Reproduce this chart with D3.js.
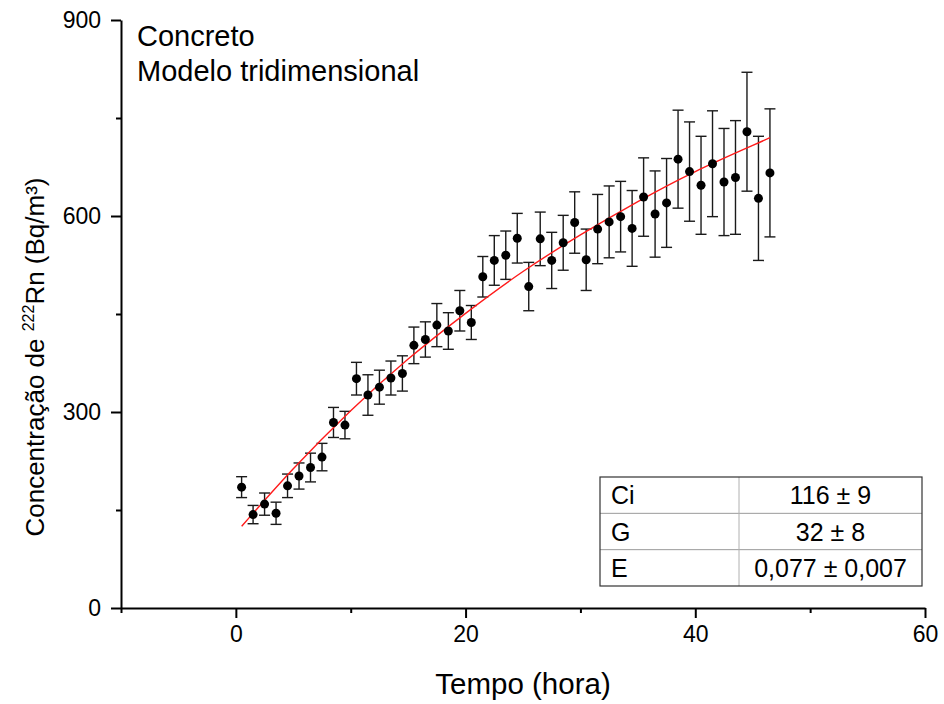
<!DOCTYPE html>
<html>
<head>
<meta charset="utf-8">
<script src="https://cdn.jsdelivr.net/npm/d3@7"></script>
<style>
  html, body { margin: 0; padding: 0; background: #fff; }
  svg { display: block; }
  text { font-family: Arial, "Liberation Sans", sans-serif; fill: #000; }
</style>
</head>
<body>
<svg id="chart" width="944" height="704"></svg>
<script>
// ---- Data ----
const times = [0.5, 1.5, 2.5, 3.5, 4.5, 5.5, 6.5, 7.5, 8.5, 9.5,
  10.5, 11.5, 12.5, 13.5, 14.5, 15.5, 16.5, 17.5, 18.5, 19.5,
  20.5, 21.5, 22.5, 23.5, 24.5, 25.5, 26.5, 27.5, 28.5, 29.5,
  30.5, 31.5, 32.5, 33.5, 34.5, 35.5, 36.5, 37.5, 38.5, 39.5,
  40.5, 41.5, 42.5, 43.5, 44.5, 45.5, 46.5];
const concentration = [185, 143, 159, 145, 187, 202, 215, 231, 284, 280,
  351, 326, 338, 352, 359, 402, 411, 433, 424, 455,
  437, 507, 532, 540, 566, 492, 565, 532, 559, 590,
  533, 580, 591, 599, 581, 629, 603, 620, 687, 668,
  647, 680, 652, 659, 729, 627, 666];
const errors = [16, 14, 17, 17, 18, 20, 22, 21, 23, 21,
  25, 31, 26, 26, 27, 28, 27, 33, 28, 31,
  26, 31, 38, 37, 38, 37, 41, 43, 42, 47,
  47, 53, 55, 54, 58, 60, 66, 68, 75, 76,
  75, 81, 82, 87, 91, 95, 98];
// fitted curve
const fitTimes = [0.5, 5, 10, 15, 20, 25, 30, 35, 40, 45, 46.5];
const fitValues = [125, 213, 302, 381, 451, 515, 571, 622, 668, 708, 720];

const xMajorTicks = [0, 20, 40, 60];
const xMinorTicks = [-10, 10, 30, 50];
const yMajorTicks = [0, 300, 600, 900];
const yMinorTicks = [150, 450, 750];

const tableRows = ["Ci", "G", "E"];
const tableValues = ["116 ± 9", "32 ± 8", "0,077 ± 0,007"];
const annotation = ["Concreto", "Modelo tridimensional"];

// ---- Layout ----
const svg = d3.select("#chart");
const x = d3.scaleLinear().domain([-10, 60]).range([121, 925]);
const y = d3.scaleLinear().domain([0, 900]).range([608, 20]);

const AX = "#000";

// X axis
const gx = svg.append("g").attr("transform", `translate(0,${y(0)})`);
gx.call(d3.axisBottom(x).tickValues(xMajorTicks).tickSize(10).tickSizeOuter(0).tickPadding(8));
const gxm = svg.append("g").attr("transform", `translate(0,${y(0)})`);
gxm.call(d3.axisBottom(x).tickValues(xMinorTicks).tickSize(5).tickSizeOuter(0).tickFormat(""));
gxm.select(".domain").remove();

// Y axis
const gy = svg.append("g").attr("transform", `translate(${x(-10)},0)`);
gy.call(d3.axisLeft(y).tickValues(yMajorTicks).tickSize(10).tickSizeOuter(0).tickPadding(10));
const gym = svg.append("g").attr("transform", `translate(${x(-10)},0)`);
gym.call(d3.axisLeft(y).tickValues(yMinorTicks).tickSize(5).tickSizeOuter(0).tickFormat(""));
gym.select(".domain").remove();

svg.selectAll(".domain, .tick line").attr("stroke", AX).attr("stroke-width", 2);
svg.selectAll(".tick text").attr("font-size", 23).attr("fill", "#000")
  .style("font-family", "Arial, 'Liberation Sans', sans-serif");

// Axis titles
svg.append("text")
  .attr("x", (x(-10) + x(60)) / 2).attr("y", 694)
  .attr("text-anchor", "middle").attr("font-size", 29.5)
  .text("Tempo (hora)");

const yt = svg.append("text")
  .attr("transform", "translate(44,357) rotate(-90)")
  .attr("text-anchor", "middle").attr("font-size", 26);
yt.append("tspan").text("Concentração de ");
yt.append("tspan").attr("font-size", 16).attr("dy", -10).text("222");
yt.append("tspan").attr("dy", 10).text("Rn (Bq/m³)");

// Annotation text
svg.selectAll("text.anno").data(annotation).enter().append("text")
  .attr("class", "anno")
  .attr("x", 137).attr("y", (d, i) => 46 + i * 35)
  .attr("font-size", 29).text(d => d);

// Error bars
const cap = 5.5;
const eb = svg.append("g").attr("stroke", "#1a1a1a").attr("stroke-width", 1.4);
times.forEach((t, i) => {
  const cx = x(t), v = concentration[i], e = errors[i];
  eb.append("line").attr("x1", cx).attr("x2", cx).attr("y1", y(v + e)).attr("y2", y(v - e));
  eb.append("line").attr("x1", cx - cap).attr("x2", cx + cap).attr("y1", y(v + e)).attr("y2", y(v + e));
  eb.append("line").attr("x1", cx - cap).attr("x2", cx + cap).attr("y1", y(v - e)).attr("y2", y(v - e));
});

// Fit curve
const line = d3.line().x(d => x(d[0])).y(d => y(d[1])).curve(d3.curveNatural);
svg.append("path")
  .datum(fitTimes.map((t, i) => [t, fitValues[i]]))
  .attr("d", line).attr("fill", "none").attr("stroke", "#ff1a1a").attr("stroke-width", 1.4);

// Points
svg.append("g").selectAll("circle").data(times).enter().append("circle")
  .attr("cx", d => x(d)).attr("cy", (d, i) => y(concentration[i]))
  .attr("r", 4.5).attr("fill", "#000");

// Table
const tL = 600, tR = 922, tT = 477, tB = 586, tC = 739;
const rowH = (tB - tT) / tableRows.length;
const tg = svg.append("g");
for (let i = 1; i < tableRows.length; i++) {
  tg.append("line").attr("x1", tL).attr("x2", tR)
    .attr("y1", tT + i * rowH).attr("y2", tT + i * rowH)
    .attr("stroke", "#9a9a9a").attr("stroke-width", 1);
}
tg.append("line").attr("x1", tC).attr("x2", tC).attr("y1", tT).attr("y2", tB)
  .attr("stroke", "#b0b0b0").attr("stroke-width", 1);
tg.append("rect").attr("x", tL).attr("y", tT).attr("width", tR - tL).attr("height", tB - tT)
  .attr("fill", "none").attr("stroke", "#333").attr("stroke-width", 1.2);
tableRows.forEach((r, i) => {
  tg.append("text").attr("x", 611).attr("y", tT + i * rowH + rowH / 2 + 9)
    .attr("font-size", 25).text(r);
  tg.append("text").attr("x", (tC + tR) / 2).attr("y", tT + i * rowH + rowH / 2 + 9)
    .attr("text-anchor", "middle").attr("font-size", 25).text(tableValues[i]);
});
</script>
</body>
</html>
